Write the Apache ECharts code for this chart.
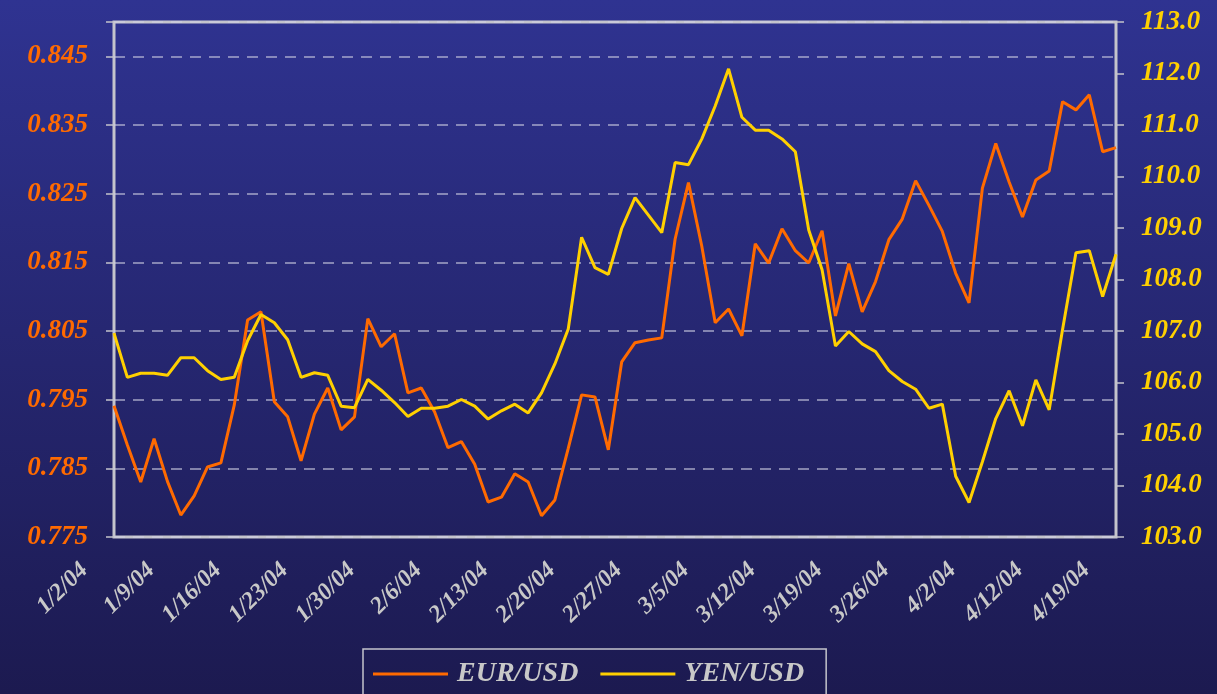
<!DOCTYPE html>
<html>
<head>
<meta charset="utf-8">
<title>EUR/USD vs YEN/USD</title>
<script src="https://cdn.jsdelivr.net/npm/echarts@6/dist/echarts.min.js"></script>
<style>
  html, body { margin: 0; padding: 0; }
  #myChart { width: 1217px; height: 694px; }
</style>
</head>
<body>
<div id="myChart"></div>
<script>
// trading days, Jan 2 - Apr 19 2004
let dates = [
  '1/2/04', '1/5/04', '1/6/04', '1/7/04', '1/8/04', '1/9/04',
  '1/12/04', '1/13/04', '1/14/04', '1/15/04', '1/16/04',
  '1/19/04', '1/20/04', '1/21/04', '1/22/04', '1/23/04',
  '1/26/04', '1/27/04', '1/28/04', '1/29/04', '1/30/04',
  '2/2/04', '2/3/04', '2/4/04', '2/5/04', '2/6/04',
  '2/9/04', '2/10/04', '2/11/04', '2/12/04', '2/13/04',
  '2/16/04', '2/17/04', '2/18/04', '2/19/04', '2/20/04',
  '2/23/04', '2/24/04', '2/25/04', '2/26/04', '2/27/04',
  '3/1/04', '3/2/04', '3/3/04', '3/4/04', '3/5/04',
  '3/8/04', '3/9/04', '3/10/04', '3/11/04', '3/12/04',
  '3/15/04', '3/16/04', '3/17/04', '3/18/04', '3/19/04',
  '3/22/04', '3/23/04', '3/24/04', '3/25/04', '3/26/04',
  '3/29/04', '3/30/04', '3/31/04', '4/1/04', '4/2/04',
  '4/5/04', '4/6/04', '4/7/04', '4/8/04', '4/12/04',
  '4/13/04', '4/14/04', '4/15/04', '4/16/04', '4/19/04'
];

let eurUsd = [
  0.7941, 0.7884, 0.7830, 0.7893, 0.7831, 0.7782, 0.7810, 0.7852, 0.7858, 0.7942,
  0.8066, 0.8078, 0.7947, 0.7925, 0.7861, 0.7929, 0.7967, 0.7906, 0.7925, 0.8068,
  0.8027, 0.8046, 0.7960, 0.7967, 0.7932, 0.7880, 0.7889, 0.7856, 0.7801, 0.7808,
  0.7842, 0.7830, 0.7781, 0.7804, 0.7879, 0.7957, 0.7954, 0.7877, 0.8005, 0.8033,
  0.8037, 0.8040, 0.8184, 0.8266, 0.8173, 0.8062, 0.8082, 0.8043, 0.8177, 0.8149,
  0.8199, 0.8167, 0.8149, 0.8196, 0.8072, 0.8148, 0.8078, 0.8122, 0.8183, 0.8213,
  0.8269, 0.8233, 0.8195, 0.8134, 0.8091, 0.8258, 0.8323, 0.8267, 0.8216, 0.8270,
  0.8283, 0.8384, 0.8372, 0.8394, 0.8311, 0.8317
];

let yenUsd = [
  106.96, 106.10, 106.18, 106.18, 106.14, 106.48, 106.48, 106.23, 106.06, 106.10,
  106.81, 107.32, 107.16, 106.83, 106.10, 106.19, 106.14, 105.54, 105.51, 106.06,
  105.85, 105.61, 105.34, 105.50, 105.50, 105.54, 105.67, 105.54, 105.29, 105.45,
  105.58, 105.41, 105.80, 106.36, 107.04, 108.82, 108.23, 108.10, 108.99, 109.59,
  109.25, 108.91, 110.27, 110.23, 110.73, 111.37, 112.09, 111.15, 110.90, 110.90,
  110.73, 110.48, 108.96, 108.19, 106.71, 106.99, 106.75, 106.60, 106.23, 106.02,
  105.87, 105.50, 105.58, 104.18, 103.67, 104.46, 105.30, 105.84, 105.16, 106.05,
  105.47, 107.03, 108.52, 108.56, 107.67, 108.49
];

// left axis runs 0.775 .. 0.850, ticks every 0.01 starting at 0.775
let eurBase = 0.775;
let eurTop = 0.850;
let yenMin = 103;
let yenMax = 113;

let serifFont = '"Liberation Serif", "Times New Roman", serif';

let option = {
  backgroundColor: {
    type: 'linear', x: 0, y: 0, x2: 0, y2: 1,
    colorStops: [
      {offset: 0, color: '#2f3391'},
      {offset: 1, color: '#1c1a50'}
    ]
  },
  animation: false,
  grid: {
    left: 114,
    right: 101,
    top: 22,
    bottom: 157,
    show: true,
    borderColor: '#c4c4cc',
    borderWidth: 3,
    backgroundColor: 'transparent'
  },
  legend: {
    left: 363,
    top: 649,
    padding: [11, 22, 40, 10],
    itemGap: 22,
    itemWidth: 75,
    itemHeight: 3,
    icon: 'rect',
    borderColor: '#c4c4cc',
    borderWidth: 1.5,
    textStyle: {
      color: '#c8c8c8',
      fontFamily: serifFont,
      fontStyle: 'italic',
      fontWeight: 'bold',
      fontSize: 28,
      padding: [0, 6, 0, 4]
    },
    data: ['EUR/USD', 'YEN/USD']
  },
  xAxis: {
    type: 'category',
    data: dates,
    boundaryGap: false,
    axisLine: {show: false},
    axisTick: {show: false},
    splitLine: {show: false},
    axisLabel: {
      interval: 4,
      rotate: 45,
      margin: 0,
      padding: [0, 42, 0, 0],
      color: '#c8c8c8',
      fontFamily: serifFont,
      fontStyle: 'italic',
      fontWeight: 'bold',
      fontSize: 24
    }
  },
  yAxis: [
    {
      type: 'value',
      position: 'left',
      min: 0,
      max: +(eurTop - eurBase).toFixed(3),
      interval: 0.01,
      axisLine: {show: false},
      axisTick: {show: true, length: 8, lineStyle: {color: '#c4c4cc', width: 1.5}},
      axisLabel: {
        margin: 26,
        color: '#ff6a00',
        fontFamily: serifFont,
        fontStyle: 'italic',
        fontWeight: 'bold',
        fontSize: 27,
        formatter: function (v) {
          if (v > 0.0745) return '';
          return (v + eurBase).toFixed(3);
        }
      },
      splitLine: {
        show: true,
        lineStyle: {color: 'rgba(205,205,225,0.75)', width: 1.5, type: [11, 8]}
      }
    },
    {
      type: 'value',
      position: 'right',
      min: yenMin,
      max: yenMax,
      interval: 1,
      axisLine: {show: false},
      axisTick: {show: true, length: 8, lineStyle: {color: '#c4c4cc', width: 1.5}},
      splitLine: {show: false},
      axisLabel: {
        margin: 25,
        color: '#ffd000',
        fontFamily: serifFont,
        fontStyle: 'italic',
        fontWeight: 'bold',
        fontSize: 27,
        formatter: function (v) {
          return v.toFixed(1);
        }
      }
    }
  ],
  series: [
    {
      name: 'EUR/USD',
      type: 'line',
      yAxisIndex: 0,
      data: eurUsd.map(v => +(v - eurBase).toFixed(4)),
      showSymbol: false,
      smooth: false,
      itemStyle: {color: '#ff6a00'},
      lineStyle: {color: '#ff6a00', width: 3}
    },
    {
      name: 'YEN/USD',
      type: 'line',
      yAxisIndex: 1,
      data: yenUsd,
      showSymbol: false,
      smooth: false,
      itemStyle: {color: '#ffd000'},
      lineStyle: {color: '#ffd000', width: 3}
    }
  ]
};

let myChart = echarts.init(document.getElementById('myChart'));
myChart.setOption(option);
</script>
</body>
</html>
